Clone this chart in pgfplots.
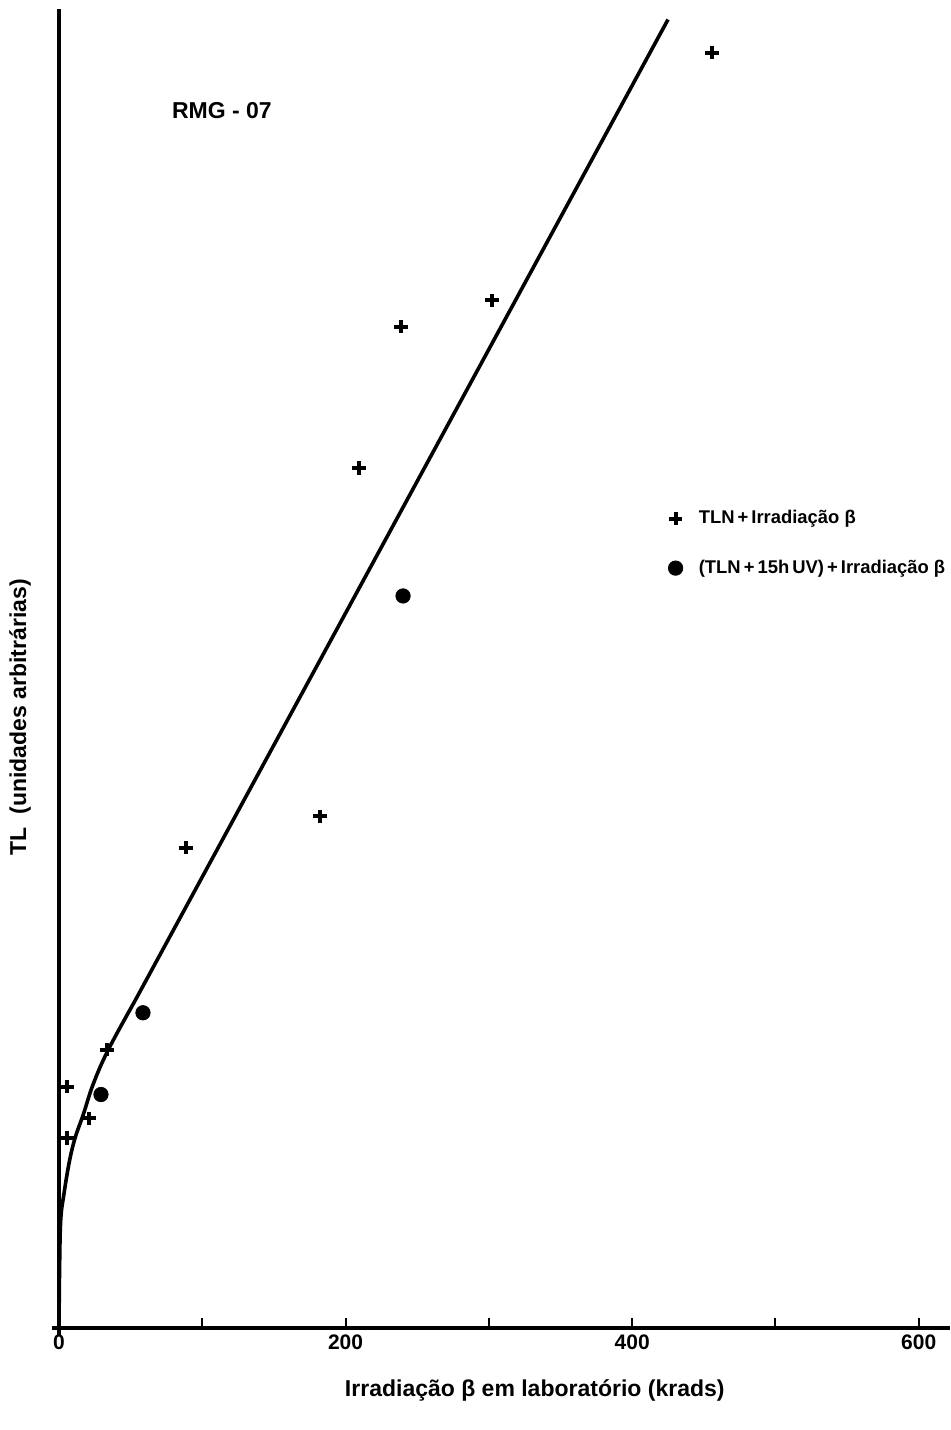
\documentclass[border=0pt]{standalone}
\usepackage{fontspec}
\setmainfont{Liberation Sans}
\usepackage{pgfplots}
\pgfplotsset{compat=1.18}
\begin{document}
\begin{tikzpicture}
\begin{axis}[
  at={(29.5pt,51pt)}, anchor=south west,
  scale only axis, width=445.5pt, height=659.5pt,
  xmin=0, xmax=621.8, ymin=0, ymax=100,
  axis x line=bottom, axis y line=left,
  axis line style={-, line width=2pt},
  xtick={0,100,200,300,400,500,600},
  xticklabels={0,,200,,400,,600},
  ytick=\empty,
  xtick align=inside,
  major tick length=5pt,
  x tick style={line width=1pt, black},
  xticklabel style={font=\bfseries\fontsize{10.5}{12}\selectfont},
  xlabel={Irradiação β em laboratório (krads)},
  xlabel style={at={(axis description cs:0.534,-0.047)}, anchor=center, font=\bfseries\fontsize{11.5}{13}\selectfont},
  ylabel={TL\ \ (unidades arbitrárias)},
  ylabel style={at={(axis description cs:-0.0438,0.463)}, anchor=center, font=\bfseries\fontsize{11.5}{13}\selectfont},
  clip=false,
  legend style={draw=none, fill=none, inner sep=0pt, at={(axis description cs:0.6835,0.5948)}, anchor=west,
    font=\bfseries\fontsize{9.2}{11}\selectfont, row sep=12.5pt, column sep=6pt, cells={anchor=west}},
  legend image code/.code={\draw[#1] plot coordinates {(0pt,0pt)};},
]
\addplot[only marks, mark=+, mark size=3.3pt, line width=2pt, black] coordinates {
  (455.7,96.7)(302.2,77.9)(238.7,75.9)(209.4,65.2)(182.1,38.8)(88.6,36.4)
  (33.5,21.1)(5.6,18.3)(20.9,15.9)(5.6,14.4)(0,0)};
\addlegendentry{TLN\,+\,Irradiação β}
\addplot[only marks, mark=*, mark size=3.6pt, black] coordinates {
  (240.1,55.5)(58.6,23.9)(29.3,17.7)};
\addlegendentry{(TLN\,+\,15h\,UV)\,+\,Irradiação β}
\addplot[forget plot, line width=1.8pt, smooth, tension=0.6, black] coordinates {
  (0,0)(0.4,4.5)(1.2,8.2)(3.5,10.2)(7.2,12.6)(11.2,14.4)(17,16.2)(23.9,18.5)(34.4,21.1)(53,24.8)};
\addplot[forget plot, line width=1.8pt, black] coordinates {(53,24.8)(425,99.2)};
\node[font=\bfseries\fontsize{11.5}{13}\selectfont] at (axis cs:113.7,92.3) {RMG - 07};
\end{axis}
\pgfresetboundingbox
\path[use as bounding box] (0,0) rectangle (475pt,715pt);
\end{tikzpicture}
\end{document}
